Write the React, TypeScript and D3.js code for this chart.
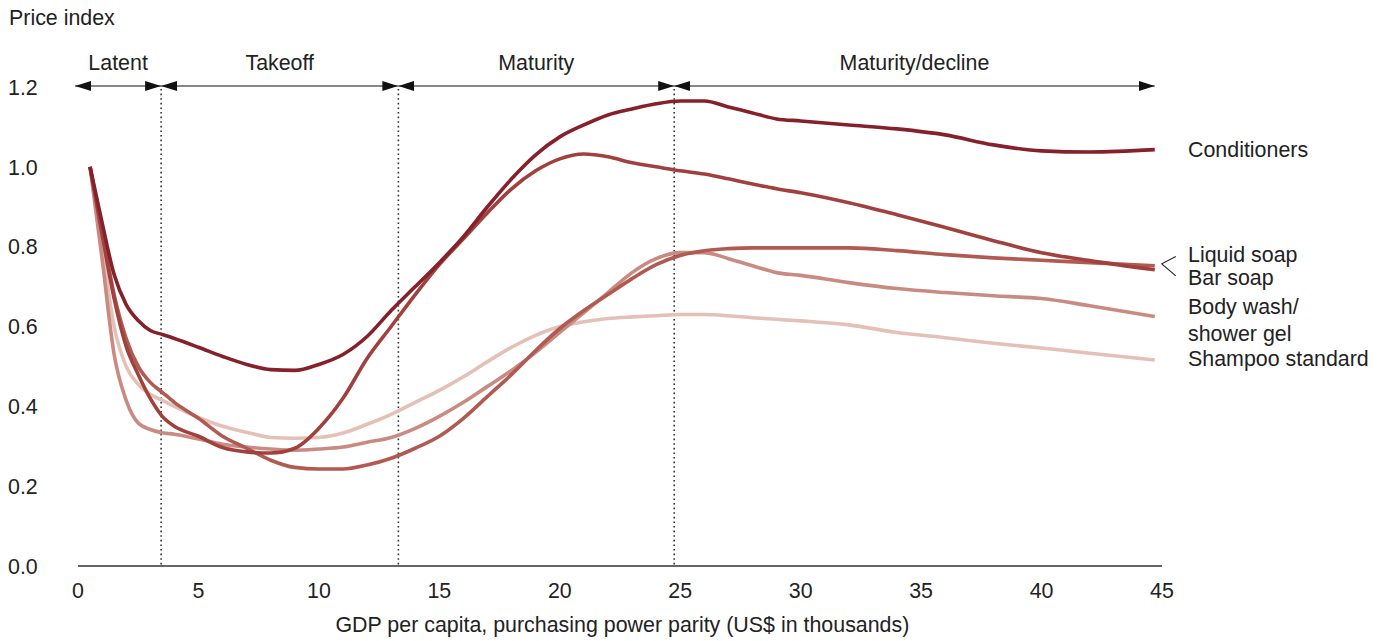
import * as d3 from 'd3';
import React from 'react';

// GDP per capita grid (US$ thousands) shared by every series
const gdp = [0.5, 1, 1.5, 2, 2.5, 3, 3.5, 4, 5, 6, 7, 8, 9, 10, 11, 12, 13, 14, 15, 16, 17, 18, 19, 20,
    21, 22, 23, 24, 25, 26, 27, 28, 29, 30, 32, 34, 36, 38, 40, 42, 44.7];

const conditioners = [1.0, 0.86, 0.73, 0.655, 0.615, 0.59, 0.58, 0.57, 0.548, 0.525, 0.505, 0.492, 0.49, 0.505,
    0.53, 0.575, 0.64, 0.7, 0.76, 0.825, 0.9, 0.97, 1.03, 1.075, 1.105, 1.13, 1.145, 1.158, 1.165, 1.165,
    1.15, 1.135, 1.12, 1.115, 1.105, 1.095, 1.08, 1.055, 1.04, 1.037, 1.043];
const liquidSoap = [1.0, 0.83, 0.67, 0.55, 0.48, 0.42, 0.375, 0.35, 0.325, 0.297, 0.286, 0.283, 0.295, 0.345,
    0.42, 0.52, 0.6, 0.68, 0.755, 0.82, 0.885, 0.945, 0.99, 1.02, 1.032, 1.025, 1.01, 1.0, 0.99, 0.982,
    0.97, 0.957, 0.945, 0.935, 0.91, 0.88, 0.848, 0.815, 0.785, 0.765, 0.742];
const barSoap = [1.0, 0.84, 0.68, 0.57, 0.5, 0.46, 0.435, 0.41, 0.37, 0.325, 0.295, 0.265, 0.247, 0.243,
    0.243, 0.253, 0.27, 0.295, 0.325, 0.37, 0.425, 0.48, 0.54, 0.595, 0.64, 0.68, 0.72, 0.755, 0.778, 0.79,
    0.795, 0.797, 0.797, 0.797, 0.797, 0.79, 0.78, 0.772, 0.766, 0.76, 0.752];
const bodyWash = [1.0, 0.77, 0.53, 0.415, 0.358, 0.342, 0.334, 0.33, 0.318, 0.305, 0.298, 0.293, 0.29, 0.293,
    0.298, 0.31, 0.322, 0.345, 0.375, 0.41, 0.45, 0.49, 0.535, 0.585, 0.635, 0.685, 0.735, 0.77, 0.785, 0.785,
    0.77, 0.752, 0.735, 0.728, 0.71, 0.695, 0.685, 0.677, 0.67, 0.652, 0.625];
const shampoo = [1.0, 0.8, 0.6, 0.5, 0.455, 0.43, 0.415, 0.4, 0.372, 0.35, 0.335, 0.322, 0.32, 0.322,
    0.333, 0.355, 0.38, 0.41, 0.44, 0.474, 0.512, 0.548, 0.578, 0.6, 0.612, 0.62, 0.624, 0.627, 0.63, 0.63,
    0.627, 0.622, 0.618, 0.614, 0.604, 0.585, 0.572, 0.558, 0.546, 0.533, 0.516];

const seriesNames = ['Shampoo standard', 'Body wash/shower gel', 'Bar soap', 'Liquid soap', 'Conditioners'];
const seriesValues = [shampoo, bodyWash, barSoap, liquidSoap, conditioners];
const seriesColors = ['#e4c0b6', '#c98b81', '#b05a52', '#a0413d', '#86202a'];

// label text lines and the price index level where each sits
const labelLines = ['Conditioners', 'Liquid soap', 'Bar soap', 'Body wash/', 'shower gel', 'Shampoo standard'];
const labelLevels = [1.043, 0.78, 0.724, 0.65, 0.583, 0.52];

const phaseNames = ['Latent', 'Takeoff', 'Maturity', 'Maturity/decline'];
const phaseBreaks = [-0.12, 3.45, 13.3, 24.75, 44.7];

const yTicks = [0, 0.2, 0.4, 0.6, 0.8, 1.0, 1.2];
const xTicks = [0, 5, 10, 15, 20, 25, 30, 35, 40, 45];

const W = 1391, H = 641;
const font = '"Liberation Sans", Arial, sans-serif';
const ink = '#222';
const fs = 21.4;

const App = () => {
    const x = d3.scaleLinear().domain([0, 45]).range([78, 1162]);
    const y = d3.scaleLinear().domain([0, 1.2]).range([566, 87]);

    const line = d3.line<number>()
        .x((d, i) => x(gdp[i]))
        .y(d => y(d))
        .curve(d3.curveMonotoneX);

    const arrowY = y(1.2) - 1;

    return (
        <svg width={W} height={H} style={{ position: 'absolute', left: 0, top: 0, background: '#fff' }}
            fontFamily={font}>
            <defs>
                <marker id="ahead" viewBox="0 0 16 10" refX={16} refY={5} markerWidth={16} markerHeight={10}
                    markerUnits="userSpaceOnUse" orient="auto-start-reverse">
                    <path d="M0,0 L16,5 L0,10 Z" fill="#111" />
                </marker>
            </defs>

            <text x={9} y={25} fontSize={fs} fill={ink}>Price index</text>

            {/* y axis labels */}
            {yTicks.map(t => (
                <text key={t} x={8} y={y(t)} dy="0.36em" fontSize={fs} fill={ink}>{d3.format('.1f')(t)}</text>
            ))}

            {/* x axis */}
            <line x1={x(0)} x2={x(45)} y1={y(0)} y2={y(0)} stroke="#333" strokeWidth={1.5} />
            {xTicks.map(t => (
                <text key={t} x={x(t)} y={598} textAnchor="middle" fontSize={fs} fill={ink}>{t}</text>
            ))}
            <text x={x(22.6)} y={632} textAnchor="middle" fontSize={fs} fill={ink}>
                GDP per capita, purchasing power parity (US$ in thousands)
            </text>

            {/* phase dividers */}
            {phaseBreaks.slice(1, -1).map(b => (
                <line key={b} x1={x(b)} x2={x(b)} y1={arrowY + 3} y2={y(0)} stroke="#333"
                    strokeWidth={1.6} strokeDasharray="1.6 3" />
            ))}

            {/* phase arrows */}
            {phaseNames.map((name, i) => {
                const x0 = x(phaseBreaks[i]), x1 = x(phaseBreaks[i + 1]);
                return (
                    <g key={name}>
                        <line x1={x0} x2={x1} y1={arrowY} y2={arrowY} stroke="#111" strokeWidth={1.2}
                            markerStart="url(#ahead)" markerEnd="url(#ahead)" />
                        <text x={(x0 + x1) / 2} y={arrowY - 16} textAnchor="middle" fontSize={fs} fill={ink}>{name}</text>
                    </g>
                );
            })}

            {/* series */}
            {seriesValues.map((vals, i) => (
                <path key={seriesNames[i]} d={line(vals) || ''} fill="none" stroke={seriesColors[i]}
                    strokeWidth={3.6} strokeLinejoin="round" />
            ))}

            {/* right-hand labels */}
            {labelLines.map((t, i) => (
                <text key={t} x={1188} y={y(labelLevels[i])} dy="0.36em" fontSize={fs} fill={ink}>{t}</text>
            ))}
            <polyline
                points={`${x(44.7) + 21},${y(0.778) + 1} ${x(44.7) + 7},${y(0.752) - 2} ${x(44.7) + 21},${y(0.722) - 2}`}
                fill="none" stroke="#222" strokeWidth={1.1} />
        </svg>
    );
};

export default App;
